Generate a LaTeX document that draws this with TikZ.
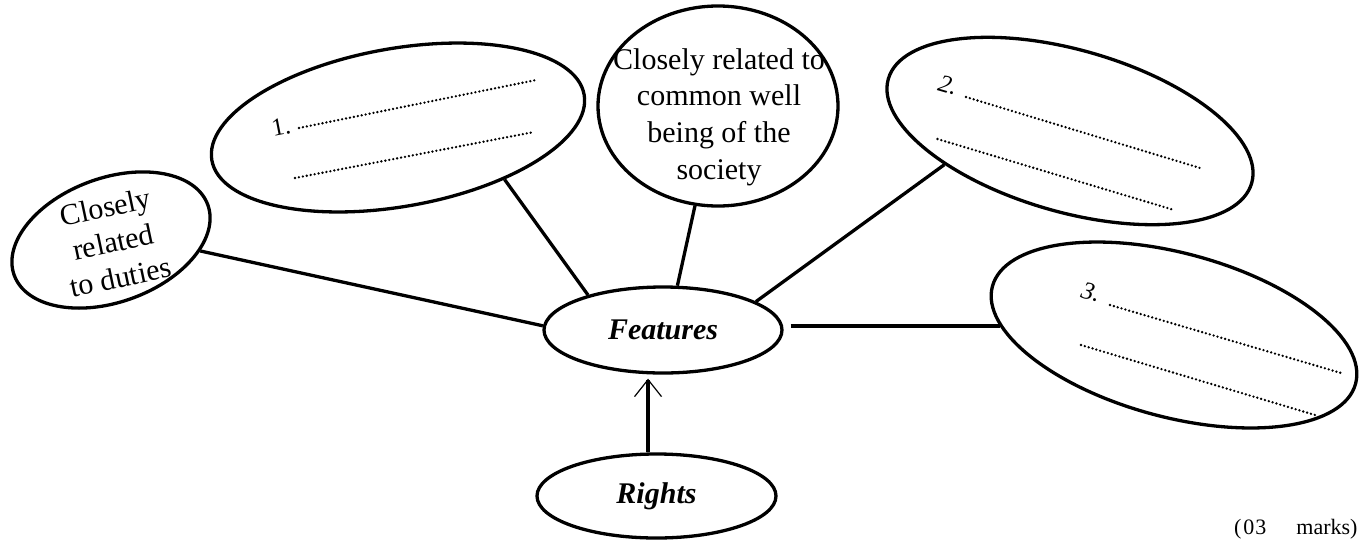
\documentclass[tikz,border=0pt]{standalone}
\usepackage{fontspec}
\setmainfont{Liberation Serif}
\usetikzlibrary{arrows.meta,shapes.geometric}

\tikzset{
    bubble/.style={ellipse, draw, line width=3.3pt, inner sep=0pt},
    link/.style={line width=3.3pt},
    dotline/.style={line width=2.6pt, line cap=round, dash pattern=on 0pt off 4pt},
    big/.style={font=\fontsize{30}{36.7}\selectfont, align=center},
    key/.style={font=\fontsize{30}{36}\selectfont\bfseries\itshape},
    num/.style={font=\fontsize{25}{28}\selectfont, inner sep=0pt},
}

\begin{document}
\begin{tikzpicture}[x=1pt, y=-1pt]
    \useasboundingbox (0,0) rectangle (1361,539);
    % outer bubbles
    \node[bubble, minimum width=206pt, minimum height=124pt, rotate=20] (duties) at (111,240) {};
    \node[big, font=\fontsize{30}{35.8}\selectfont, rotate=12] (dutiestext) at (113,242) {Closely\\related\\to duties};
    \node[bubble, minimum width=378pt, minimum height=158pt, rotate=10] (ell1) at (398,127.5) {};
    \node[bubble, minimum width=240pt, minimum height=200pt] (common) at (718,106) {};
    \node[big] (commontext) at (719,117) {Closely related to\\common well\\being of the\\society};
    \node[bubble, minimum width=378pt, minimum height=162pt, rotate=-16] (ell2) at (1070,131) {};
    \node[bubble, minimum width=376pt, minimum height=164pt, rotate=-15] (ell3) at (1174,335) {};
    % centre
    \node[bubble, key, minimum width=238pt, minimum height=86pt] (feat) at (663,330) {Features};
    \node[bubble, key, minimum width=239pt, minimum height=84pt] (rights) at (656.5,496) {Rights};
    % blanks
    \node[num, rotate=11] (one) at (281,127) {1.};
    \draw[dotline] (299,128) -- (536,80);
    \draw[dotline] (295,178) -- (534,132);
    \node[num, font=\fontsize{25}{28}\selectfont\itshape, rotate=-16] (two) at (948,85) {2.};
    \draw[dotline] (966,97) -- (1200,168);
    \draw[dotline] (937.5,139) -- (1174,210);
    \node[num, font=\fontsize{25}{28}\selectfont\itshape, rotate=-16] (three) at (1091,292) {3.};
    \draw[dotline] (1110,305) -- (1341,373);
    \draw[dotline] (1081,345) -- (1315,415);
    % connectors
    \draw[link] (duties.-27) -- (feat.178);
    \draw[link] (ell1.-36) -- (feat.155);
    \draw[link] (common.-103) -- (feat.72);
    \draw[link] (ell2.211) -- (feat.17);
    \draw[link, shorten <=7pt] (feat.east |- ell3.192) -- (ell3.192);
    \draw[link, -{Straight Barb[length=17pt, width=27pt, line width=1.2pt]}, shorten >=4pt] (rights.101) -- (rights.101 |- feat.south);
    \node[anchor=base east, font=\fontsize{22}{26}\selectfont] (marks) at (1361,534) {(\kern2pt0\kern1pt3\hspace{30pt}marks)};
\end{tikzpicture}
\end{document}
